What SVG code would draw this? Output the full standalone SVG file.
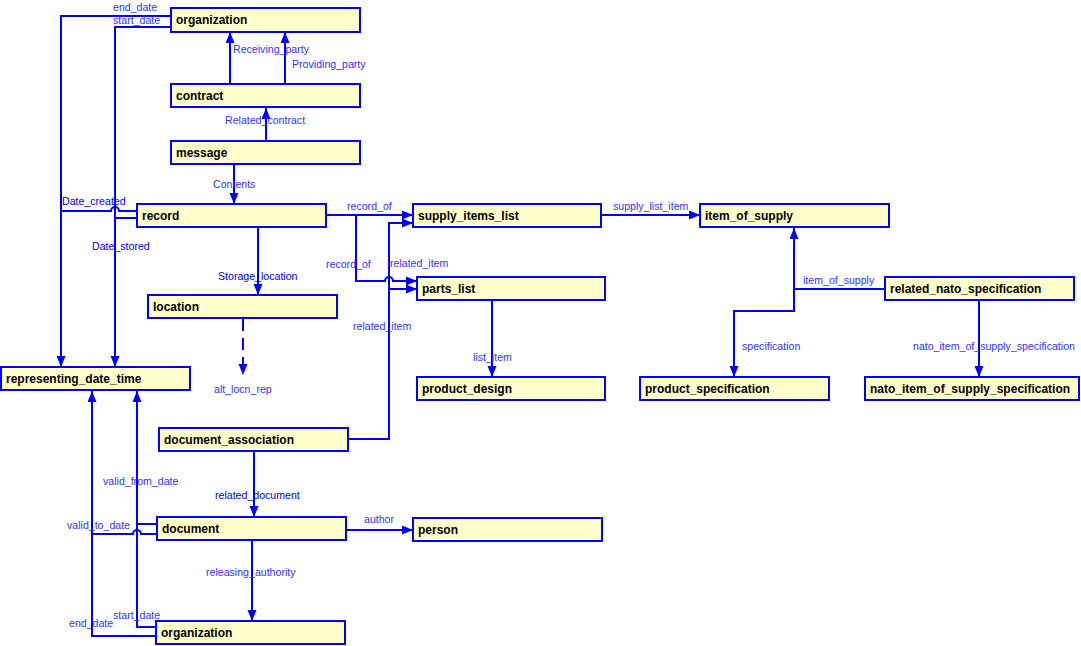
<svg xmlns="http://www.w3.org/2000/svg" width="1081" height="646" viewBox="0 0 1081 646">
<defs>
<marker id="arr" markerUnits="userSpaceOnUse" markerWidth="12" markerHeight="10" refX="11" refY="4.5" orient="auto">
<path d="M0,0 L11,4.5 L0,9 z" fill="#0000ff"/>
</marker>
<style>
.box{fill:#ffffcc;stroke:#0000ff;stroke-width:2}
.nt{font-family:"Liberation Sans",Arial,sans-serif;font-size:12px;font-weight:bold;fill:#000}
.ln{fill:none;stroke:#0000ff;stroke-width:2}
.lb{font-family:"Liberation Sans",Arial,sans-serif;font-size:10.6px;fill:#3333ff}
.lbd{fill:#0000ee}
.dash{stroke-dasharray:12,7}
</style>
</defs>
<rect width="1081" height="646" fill="#fff"/>

<g id="connectors">
<!-- contract -> organization -->
<path class="ln" d="M230,84 V32" marker-end="url(#arr)"/>
<path class="ln" d="M285,84 V32" marker-end="url(#arr)"/>
<!-- message -> contract -->
<path class="ln" d="M266,140 V108" marker-end="url(#arr)"/>
<!-- message -> record -->
<path class="ln" d="M234,164 V204" marker-end="url(#arr)"/>
<!-- organization -> representing_date_time -->
<path class="ln" d="M171,16 H61 V367" marker-end="url(#arr)"/>
<path class="ln" d="M171,27 H115 V367" marker-end="url(#arr)"/>
<!-- record -> representing_date_time -->
<path class="ln" d="M137,211 H119 A4,4 0 0 0 111,211 H61"/>
<path class="ln" d="M137,218 H115"/>
<!-- document -> representing_date_time -->
<path class="ln" d="M157,524 H137 V391" marker-end="url(#arr)"/>
<path class="ln" d="M157,534 H141 A4,4 0 0 0 133,534 H92 V391" marker-end="url(#arr)"/>
<!-- organization bottom -> representing_date_time -->
<path class="ln" d="M156,627 H137 V524"/>
<path class="ln" d="M156,636 H92 V534"/>
<!-- record -> supply_items_list / parts_list -->
<path class="ln" d="M326,215 H413" marker-end="url(#arr)"/>
<path class="ln" d="M356,215 V281 H385 A4,4 0 0 1 393,281 H417" marker-end="url(#arr)"/>
<!-- document_association -> supply_items_list / parts_list -->
<path class="ln" d="M348,439 H389 V223 H413" marker-end="url(#arr)"/>
<path class="ln" d="M389,289 H417" marker-end="url(#arr)"/>
<!-- record -> location -->
<path class="ln" d="M258,228 V295" marker-end="url(#arr)"/>
<!-- location -> alt_locn_rep -->
<path class="ln dash" d="M243,319 V375" marker-end="url(#arr)"/>
<!-- supply_items_list -> item_of_supply -->
<path class="ln" d="M601,215 H700" marker-end="url(#arr)"/>
<!-- parts_list -> product_design -->
<path class="ln" d="M492,300 V377" marker-end="url(#arr)"/>
<!-- related_nato_specification -> item_of_supply / product_specification -->
<path class="ln" d="M885,289 H794 V228" marker-end="url(#arr)"/>
<path class="ln" d="M794,289 V311 H734 V377" marker-end="url(#arr)"/>
<!-- related_nato_specification -> nato_item_of_supply_specification -->
<path class="ln" d="M979,300 V377" marker-end="url(#arr)"/>
<!-- document_association -> document -->
<path class="ln" d="M254,451 V517" marker-end="url(#arr)"/>
<!-- document -> person -->
<path class="ln" d="M346,530 H413" marker-end="url(#arr)"/>
<!-- document -> organization -->
<path class="ln" d="M252,541 V621" marker-end="url(#arr)"/>

<text class="lb" x="113" y="11">end_date</text>
<text class="lb" x="113" y="24">start_date</text>
<text class="lb" x="233" y="53">Receiving_party</text>
<text class="lb" x="292" y="68">Providing_party</text>
<text class="lb" x="225" y="124">Related_contract</text>
<text class="lb" x="213" y="188">Contents</text>
<text class="lb lbd" x="62" y="205">Date_created</text>
<text class="lb lbd" x="92" y="250">Date_stored</text>
<text class="lb lbd" x="218" y="280">Storage_location</text>
<text class="lb" x="214" y="393">alt_locn_rep</text>
<text class="lb" x="347" y="210">record_of</text>
<text class="lb" x="326" y="268">record_of</text>
<text class="lb" x="390" y="267">related_item</text>
<text class="lb" x="353" y="330">related_item</text>
<text class="lb" x="473" y="361">list_item</text>
<text class="lb" x="613" y="210">supply_list_item</text>
<text class="lb" x="803" y="284">item_of_supply</text>
<text class="lb" x="742" y="350">specification</text>
<text class="lb" x="913" y="350">nato_item_of_supply_specification</text>
<text class="lb" x="103" y="485">valid_from_date</text>
<text class="lb lbd" x="215" y="499">related_document</text>
<text class="lb" x="67" y="529">valid_to_date</text>
<text class="lb" x="364" y="523">author</text>
<text class="lb" x="206" y="576">releasing_authority</text>
<text class="lb" x="113" y="619">start_date</text>
<text class="lb" x="69" y="627">end_date</text>
</g>

<g id="organization_top"><rect class="box" x="171" y="8" width="189" height="24"/><text class="nt" x="176" y="24">organization</text></g>
<g id="contract"><rect class="box" x="171" y="84" width="189" height="23"/><text class="nt" x="176" y="100">contract</text></g>
<g id="message"><rect class="box" x="171" y="141" width="189" height="23"/><text class="nt" x="176" y="157">message</text></g>
<g id="record"><rect class="box" x="137" y="204" width="189" height="23"/><text class="nt" x="142" y="220">record</text></g>
<g id="supply_items_list"><rect class="box" x="413" y="204" width="188" height="23"/><text class="nt" x="418" y="220">supply_items_list</text></g>
<g id="item_of_supply"><rect class="box" x="700" y="204" width="189" height="23"/><text class="nt" x="705" y="220">item_of_supply</text></g>
<g id="parts_list"><rect class="box" x="417" y="277" width="188" height="23"/><text class="nt" x="422" y="293">parts_list</text></g>
<g id="related_nato_specification"><rect class="box" x="885" y="277" width="189" height="23"/><text class="nt" x="890" y="293">related_nato_specification</text></g>
<g id="location"><rect class="box" x="148" y="295" width="189" height="23"/><text class="nt" x="153" y="311">location</text></g>
<g id="representing_date_time"><rect class="box" x="1" y="367" width="189" height="23"/><text class="nt" x="6" y="383">representing_date_time</text></g>
<g id="product_design"><rect class="box" x="417" y="377" width="188" height="23"/><text class="nt" x="422" y="393">product_design</text></g>
<g id="product_specification"><rect class="box" x="640" y="377" width="189" height="23"/><text class="nt" x="645" y="393">product_specification</text></g>
<g id="nato_item_of_supply_specification"><rect class="box" x="865" y="377" width="214" height="23"/><text class="nt" x="870" y="393">nato_item_of_supply_specification</text></g>
<g id="document_association"><rect class="box" x="159" y="428" width="189" height="23"/><text class="nt" x="164" y="444">document_association</text></g>
<g id="document"><rect class="box" x="157" y="517" width="189" height="23"/><text class="nt" x="162" y="533">document</text></g>
<g id="person"><rect class="box" x="413" y="518" width="189" height="23"/><text class="nt" x="418" y="534">person</text></g>
<g id="organization_bottom"><rect class="box" x="156" y="621" width="189" height="23"/><text class="nt" x="161" y="637">organization</text></g>
</svg>
